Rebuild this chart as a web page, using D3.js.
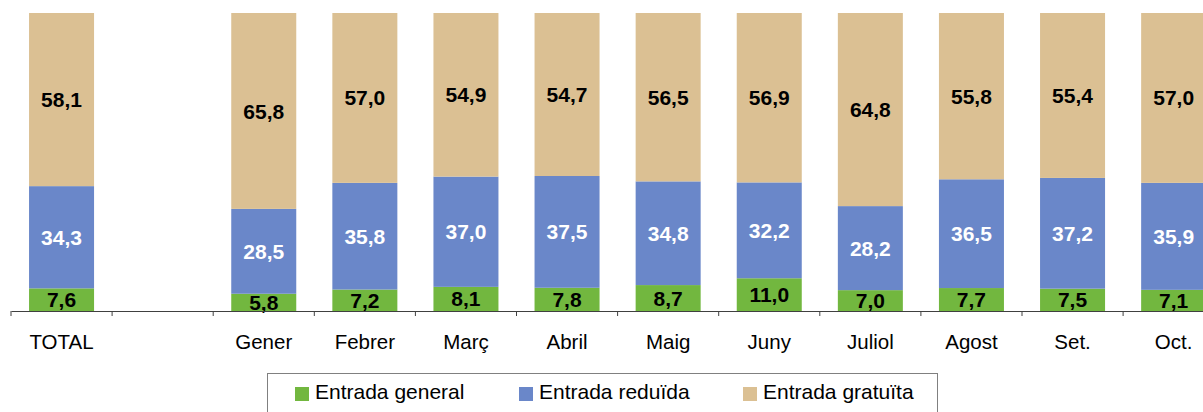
<!DOCTYPE html>
<html lang="ca">
  <head>
    <meta charset="UTF-8" />
    <title>Entrades per tipus</title>
    <script src="https://d3js.org/d3.v7.min.js"></script>
    <style>
      body {
        margin: 0;
        background: #fff;
      }
      svg text {
        font-family: "Liberation Sans", Arial, sans-serif;
      }
      .lbl {
        font-size: 21px;
        font-weight: bold;
      }
      .axis text {
        font-size: 20.5px;
        fill: #000;
      }
      .legend text {
        font-size: 21px;
        fill: #000;
      }
    </style>
  </head>
  <body>
    <svg id="chart" width="1203" height="412"></svg>
    <script>
      // data (%), the second slot is an empty gap in the original chart
      const categories = ["TOTAL", "", "Gener", "Febrer", "Març", "Abril", "Maig", "Juny", "Juliol", "Agost", "Set.", "Oct."];
      const general = [7.6, null, 5.8, 7.2, 8.1, 7.8, 8.7, 11.0, 7.0, 7.7, 7.5, 7.1];
      const reduida = [34.3, null, 28.5, 35.8, 37.0, 37.5, 34.8, 32.2, 28.2, 36.5, 37.2, 35.9];
      const gratuita = [58.1, null, 65.8, 57.0, 54.9, 54.7, 56.5, 56.9, 64.8, 55.8, 55.4, 57.0];
      const seriesNames = ["Entrada general", "Entrada reduïda", "Entrada gratuïta"];

      const colors = ["#72b73f", "#6a87c9", "#dbc093"];
      const labelColors = ["#000", "#fff", "#000"];

      const keys = ["general", "reduida", "gratuita"];
      const rows = categories
        .map((c, i) => ({ cat: c, general: general[i], reduida: reduida[i], gratuita: gratuita[i] }))
        .filter((d) => d.general != null);

      const svg = d3.select("#chart");
      const step = 101.1;
      const x0 = 11, axisY = 311, topY = 13;

      const x = d3
        .scaleBand()
        .domain(categories)
        .range([x0, x0 + step * categories.length])
        .paddingInner(0.357)
        .paddingOuter(0.1785);

      const y = d3.scaleLinear().domain([0, 1]).range([axisY, topY]);

      const stacked = d3.stack().keys(keys).offset(d3.stackOffsetExpand)(rows);

      const fmt = (v) => d3.format(".1f")(v).replace(".", ",");

      const layers = svg
        .selectAll("g.layer")
        .data(stacked)
        .enter()
        .append("g")
        .attr("class", "layer")
        .attr("fill", (d, i) => colors[i]);

      layers
        .selectAll("rect")
        .data((d) => d)
        .enter()
        .append("rect")
        .attr("x", (d) => x(d.data.cat))
        .attr("y", (d) => y(d[1]))
        .attr("width", x.bandwidth())
        .attr("height", (d) => y(d[0]) - y(d[1]));

      // value labels
      stacked.forEach((layer, li) => {
        svg
          .append("g")
          .selectAll("text")
          .data(layer)
          .enter()
          .append("text")
          .attr("class", "lbl")
          .attr("x", (d) => x(d.data.cat) + x.bandwidth() / 2)
          .attr("y", (d) => (y(d[0]) + y(d[1])) / 2)
          .attr("dy", "0.36em")
          .attr("text-anchor", "middle")
          .attr("fill", labelColors[li])
          .text((d) => fmt(d.data[layer.key]));
      });

      // x axis
      const axis = svg
        .append("g")
        .attr("class", "axis")
        .attr("transform", `translate(0,${axisY})`)
        .call(d3.axisBottom(x).tickSize(0).tickPadding(23));
      axis.select(".domain").attr("stroke", "#404040").attr("stroke-width", 1.2);

      // tick marks between categories
      axis
        .selectAll("line.sep")
        .data(d3.range(categories.length + 1))
        .enter()
        .append("line")
        .attr("class", "sep")
        .attr("x1", (i) => x0 + i * x.step())
        .attr("x2", (i) => x0 + i * x.step())
        .attr("y1", 0)
        .attr("y2", 5)
        .attr("stroke", "#404040");

      // legend
      const legend = svg.append("g").attr("class", "legend");
      legend
        .append("rect")
        .attr("x", 267.5)
        .attr("y", 373.5)
        .attr("width", 670)
        .attr("height", 60)
        .attr("fill", "#fff")
        .attr("stroke", "#808080");

      const items = legend
        .selectAll("g.item")
        .data(seriesNames)
        .enter()
        .append("g")
        .attr("class", "item")
        .attr("transform", (d, i) => `translate(${295 + i * 224},0)`);
      items
        .append("rect")
        .attr("x", 0)
        .attr("y", 387)
        .attr("width", 14)
        .attr("height", 14)
        .attr("fill", (d, i) => colors[i]);
      items
        .append("text")
        .attr("x", 20)
        .attr("y", 399)
        .text((d) => d);
    </script>
  </body>
</html>
